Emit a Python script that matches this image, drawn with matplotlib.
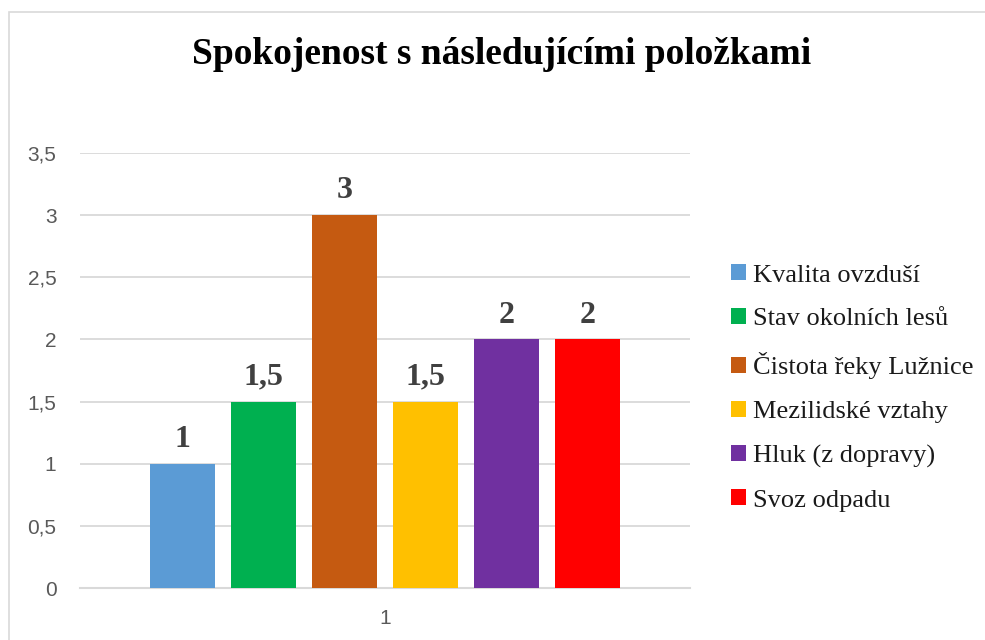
import matplotlib.pyplot as plt
import matplotlib.patches as mpatches
import numpy as np

# data
categories = ['1']
series_names = ['Kvalita ovzduší', 'Stav okolních lesů', 'Čistota řeky Lužnice',
                'Mezilidské vztahy', 'Hluk (z dopravy)', 'Svoz odpadu']
series_values = [1, 1.5, 3, 1.5, 2, 2]
value_labels = ['1', '1,5', '3', '1,5', '2', '2']
colors = ['#5B9BD5', '#00B050', '#C55A11', '#FFC000', '#7030A0', '#FF0000']
yticks = [0, 0.5, 1, 1.5, 2, 2.5, 3, 3.5]
ytick_labels = ['0', '0,5', '1', '1,5', '2', '2,5', '3', '3,5']

fig = plt.figure(figsize=(9.85, 6.4), dpi=100)
ax = fig.add_axes([80 / 985, 52 / 640, 610 / 985, 435 / 640])

# chart border
fig.patches.append(mpatches.Rectangle((9 / 985, -0.1), 1.2, (640 - 12) / 640 + 0.1,
                                      transform=fig.transFigure, fill=False,
                                      edgecolor='#D9D9D9', linewidth=1.2, zorder=0))

width = 0.1066
step = 0.1328
n = len(series_values)
offsets = (np.arange(n) - (n - 1) / 2) * step
x = np.arange(len(categories))

for i in range(n):
    b = ax.bar(x + offsets[i], [series_values[i]], width, color=colors[i],
               label=series_names[i], zorder=3)
    ax.bar_label(b, labels=[value_labels[i]], padding=7, fontsize=23,
                 fontweight='bold', family='Liberation Serif', color='#404040')

ax.set_xlim(-0.5, 0.5)
ax.set_ylim(0, 3.5)
ax.set_yticks(yticks)
ax.set_yticklabels(ytick_labels)
ax.set_xticks(x)
ax.set_xticklabels(categories)
ax.tick_params(axis='both', length=0, labelsize=15, labelcolor='#595959')
ax.tick_params(axis='y', pad=17)
ax.tick_params(axis='x', pad=15)
for lab in ax.get_xticklabels() + ax.get_yticklabels():
    lab.set_family('Liberation Sans')

ax.grid(axis='y', color='#D9D9D9', linewidth=1.3, zorder=0)
for s in ['top', 'right', 'left']:
    ax.spines[s].set_visible(False)
ax.spines['bottom'].set_color('#D9D9D9')
ax.spines['bottom'].set_linewidth(1.5)

fig.text(502 / 985, 1 - 55 / 640, 'Spokojenost s následujícími položkami',
         ha='center', va='center', fontsize=27, fontweight='bold',
         family='Liberation Serif', color='black')

leg = fig.legend(*ax.get_legend_handles_labels(), loc='center left',
                 bbox_to_anchor=(731 / 985, 1 - 388 / 640), frameon=False,
                 prop={'family': 'Liberation Serif', 'size': 19},
                 handlelength=0.55, handleheight=0.55, handletextpad=0.3,
                 labelspacing=0.82, borderaxespad=0, borderpad=0)
for t in leg.get_texts():
    t.set_color('#1a1a1a')

fig.savefig('out.png', dpi=100, facecolor='white')
